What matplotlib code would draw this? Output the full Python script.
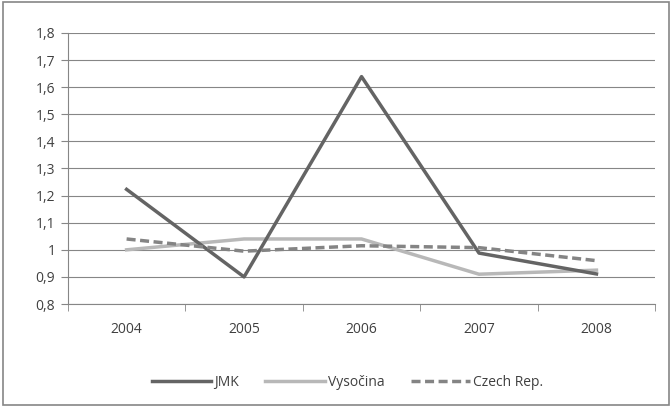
import matplotlib
matplotlib.use("Agg")
import matplotlib.pyplot as plt
from matplotlib.patches import Rectangle

years = ["2004", "2005", "2006", "2007", "2008"]
jmk = [1.223, 0.90, 1.639, 0.988, 0.911]
vysocina = [1.00, 1.04, 1.04, 0.91, 0.925]
czech = [1.04, 0.995, 1.015, 1.008, 0.96]
yticks = [0.8, 0.9, 1.0, 1.1, 1.2, 1.3, 1.4, 1.5, 1.6, 1.7, 1.8]
ylabels = ["0,8", "0,9", "1", "1,1", "1,2", "1,3", "1,4", "1,5", "1,6", "1,7", "1,8"]

plt.rcParams['font.family'] = ['Open Sans', 'DejaVu Sans']

fig = plt.figure(figsize=(6.72, 4.07), dpi=100)
ax = fig.add_axes([0.101, 0.253, 0.874, 0.666])

x = list(range(len(years)))
ax.plot(x, jmk, color='#646464', lw=2.5, label='JMK', zorder=4)
ax.plot(x, vysocina, color='#b8b8b8', lw=2.5, label='Vysočina', zorder=3)
ax.plot(x, czech, color='#848484', lw=2.5, ls=(0, (2.6, 1.3)), label='Czech Rep.', zorder=5)

ax.set_xlim(-0.5, 4.5)
ax.set_ylim(0.8, 1.8)
ax.set_yticks(yticks)
ax.set_yticklabels(ylabels)
ax.set_xticks(x)
ax.set_xticklabels(years)
ax.set_xticks([i - 0.5 for i in range(6)], minor=True)
ax.tick_params(axis='x', which='major', length=0, pad=13, labelsize=10, labelcolor='#404040')
ax.tick_params(axis='x', which='minor', length=5, color='#868686', direction='out')
ax.tick_params(axis='y', length=5, color='#868686', labelsize=10, labelcolor='#404040', pad=4)

ax.grid(axis='y', color='#868686', lw=0.8)
ax.set_axisbelow(True)
for s in ['top', 'right']:
    ax.spines[s].set_visible(False)
for s in ['left', 'bottom']:
    ax.spines[s].set_color('#868686')
    ax.spines[s].set_linewidth(0.8)

leg = ax.legend(loc='center', bbox_to_anchor=(0.476, -0.29), ncol=3, frameon=False,
                fontsize=10, handlelength=4.3, handletextpad=0.2, columnspacing=1.9)
for t in leg.get_texts():
    t.set_color('#404040')

fig.add_artist(Rectangle((0.004, 0.004), 0.992, 0.992, transform=fig.transFigure,
                         fill=False, edgecolor='#868686', lw=1.2))

fig.savefig('out.png', dpi=100)
